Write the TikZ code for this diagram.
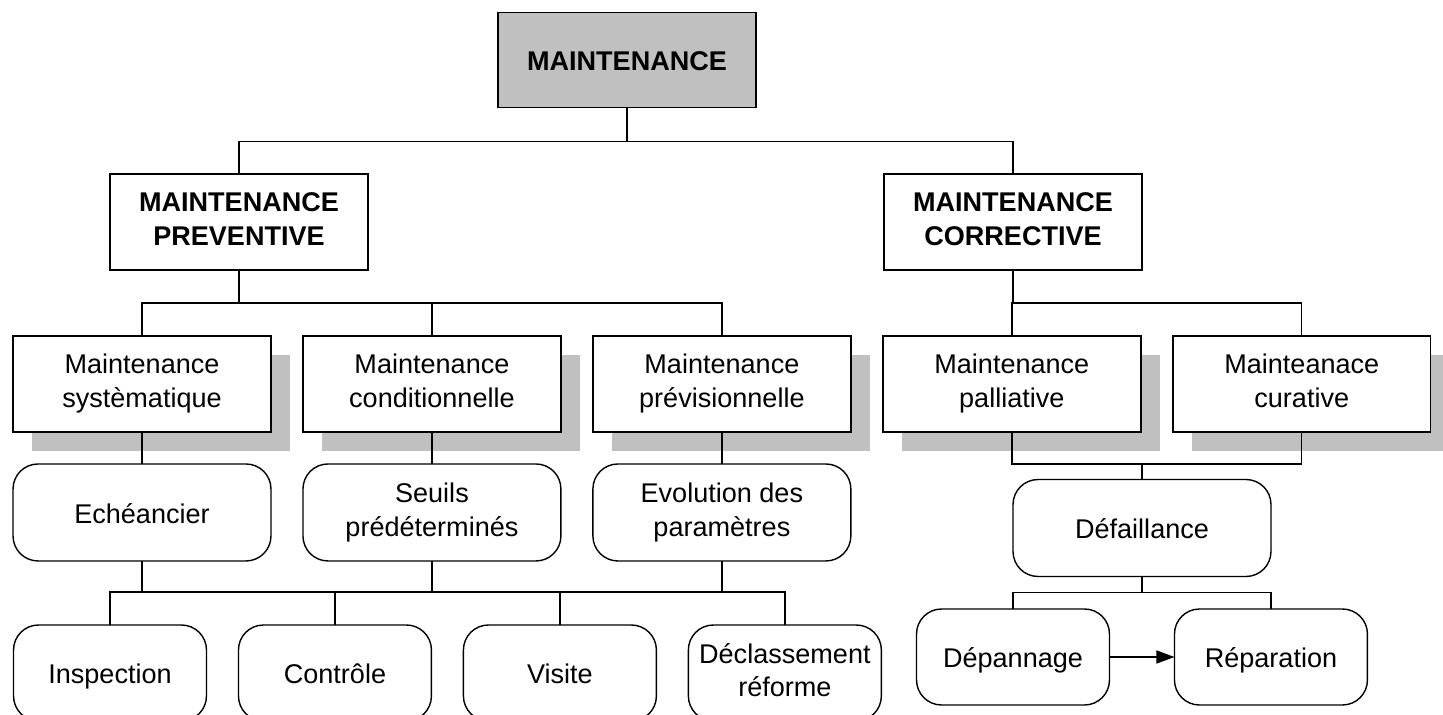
\documentclass[tikz,border=0pt]{standalone}
\usepackage{fontspec}
\setmainfont{Liberation Sans}
\usetikzlibrary{positioning, calc, arrows.meta, shadows}
\definecolor{silver}{RGB}{192,192,192}
\newcommand\boxstrut{\rule[-3.5pt]{0pt}{19.2pt}}

\begin{document}
\begin{tikzpicture}[
        x=0.02cm, y=-0.02cm,
        every node/.style={font=\fontsize{15.4pt}{19.2pt}\selectfont, align=center, line width=0.8pt, inner sep=2pt, outer sep=0pt,
            execute at begin node=\boxstrut, execute at end node=\boxstrut},
        topbox/.style={rectangle, draw, fill=silver, minimum width=5.16cm, minimum height=1.9cm, font=\fontsize{15.4pt}{19.2pt}\selectfont\bfseries},
        headbox/.style={rectangle, draw, fill=white, minimum width=5.16cm, minimum height=1.92cm, font=\fontsize{15.4pt}{19.2pt}\selectfont\bfseries},
        kindbox/.style={rectangle, draw, fill=white, minimum width=5.16cm, minimum height=1.92cm, drop shadow={shadow xshift=0.38cm, shadow yshift=-0.38cm, fill=silver, opacity=1}},
        critbox/.style={rectangle, rounded corners=0.5cm, draw, fill=white, minimum width=5.16cm, minimum height=1.94cm},
        actbox/.style={rectangle, rounded corners=0.5cm, draw, fill=white, minimum width=3.86cm, minimum height=1.92cm},
        link/.style={line width=0.8pt},
        arrow/.style={-{Triangle[length=0.36cm, width=0.26cm]}, line width=0.8pt}
    ]
        \useasboundingbox (0,0) rectangle (1443,715);

        % Top
        \node[topbox] (MAINT) at (627,60) {MAINTENANCE};

        % Two families
        \node[headbox] (PREV) at (239,222) {MAINTENANCE\\PREVENTIVE};
        \node[headbox] (CORR) at (1013,222) {MAINTENANCE\\CORRECTIVE};

        % Kinds of maintenance
        \node[kindbox] (SYST) at (142,384) {Maintenance\\systèmatique};
        \node[kindbox, right=0.64cm of SYST] (COND) {Maintenance\\conditionnelle};
        \node[kindbox, right=0.64cm of COND] (PREVI) {Maintenance\\prévisionnelle};
        \node[kindbox, right=0.64cm of PREVI] (PALL) {Maintenance\\palliative};
        \node[kindbox, right=0.64cm of PALL] (CURA) {Mainteanace\\curative};

        % Triggers
        \node[critbox, below=0.64cm of SYST] (ECH) {Echéancier};
        \node[critbox, below=0.64cm of COND] (SEUIL) {Seuils\\prédéterminés};
        \node[critbox, below=0.64cm of PREVI] (EVOL) {Evolution des\\paramètres};
        \node[critbox] (DEF) at (1142,528) {Défaillance};

        % Actions
        \node[actbox] (INSP) at (110,673) {Inspection};
        \node[actbox, right=0.64cm of INSP] (CTRL) {Contrôle};
        \node[actbox, right=0.64cm of CTRL] (VISI) {Visite};
        \node[actbox, right=0.64cm of VISI] (DECL) {Déclassement\\réforme};
        \node[actbox] (DEP) at (1013,657) {Dépannage};
        \node[actbox, right=1.3cm of DEP] (REP) {Réparation};

        % Links
        \draw[link] (MAINT.south) -- ++(0,34) -| (PREV.north);
        \draw[link] (MAINT.south) -- ++(0,34) -| (CORR.north);
        \foreach \k in {SYST,COND,PREVI}
            \draw[link] (PREV.south) -- ++(0,33) -| (\k.north);
        \foreach \k in {PALL,CURA}
            \draw[link] (CORR.south) -- ++(0,33) -| (\k.north);
        \draw[link] (SYST) -- (ECH);
        \draw[link] (COND) -- (SEUIL);
        \draw[link] (PREVI) -- (EVOL);
        \foreach \s in {ECH,SEUIL,EVOL}
            \foreach \t in {INSP,CTRL,VISI,DECL}
                \draw[link] (\s.south) -- ++(0,31) -| (\t.north);
        \draw[link] (PALL.south) -- ++(0,32) coordinate (JOIN) -| (CURA.south);
        \draw[link] (DEF.north) -- (DEF.north |- JOIN);
        \foreach \t in {DEP,REP}
            \draw[link] (DEF.south) -- ++(0,16) -| (\t.north);
        \draw[arrow] (DEP) -- (REP);
    \end{tikzpicture}
\end{document}
